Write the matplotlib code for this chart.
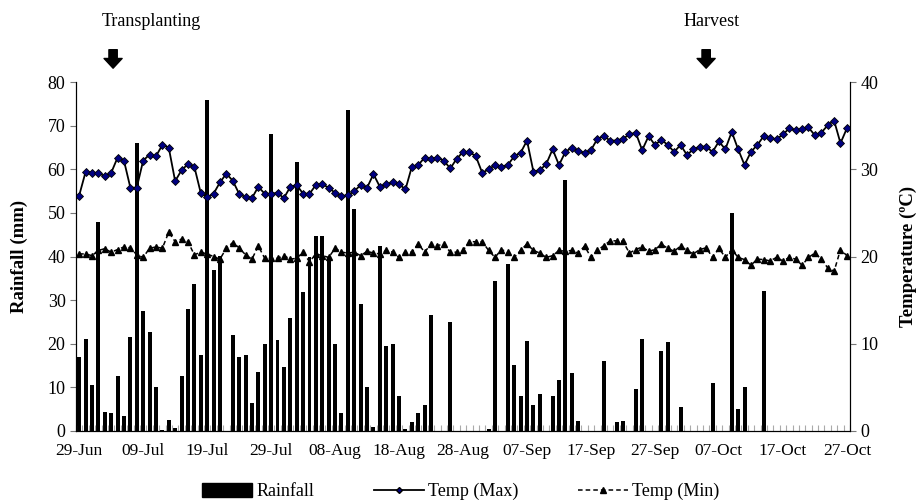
import numpy as np
import matplotlib.pyplot as plt
from matplotlib.patches import Patch
from matplotlib.lines import Line2D

plt.rcParams['font.family'] = ['Liberation Serif', 'DejaVu Serif']

# daily data, 29-Jun to 27-Oct
rainfall = [17.0, 21.0, 10.5, 48.0, 4.4, 4.0, 12.6, 3.5, 21.6, 66.0,
            27.6, 22.6, 10.0, 0.2, 2.5, 0.6, 12.6, 28.0, 33.6, 17.5,
            76.0, 37.0, 40.1, 0, 22.1, 17.0, 17.5, 6.5, 13.6, 20.0,
            68.0, 20.8, 14.6, 26.0, 61.6, 31.8, 40.0, 44.8, 44.6, 39.8,
            20.0, 4.0, 73.5, 51.0, 29.0, 10.0, 1.0, 42.5, 19.5, 20.0,
            8.0, 0.5, 2.0, 4.0, 6.0, 26.5, 0, 0, 25.0, 0,
            0, 0, 0, 0, 0.5, 34.5, 0, 38.2, 15.2, 8.0,
            20.6, 6.0, 8.5, 0, 8.0, 11.7, 57.5, 13.2, 2.3, 0,
            0, 0, 16.0, 0, 2.0, 2.3, 0, 9.6, 21.0, 0,
            0, 18.3, 20.3, 0, 5.6, 0, 0, 0, 0, 11.0,
            0, 0, 50.1, 5.0, 10.1, 0, 0, 32.0, 0, 0,
            0, 0, 0, 0, 0, 0, 0, 0, 0, 0, 0]

temp_max = [27.0, 29.7, 29.6, 29.6, 29.2, 29.6, 31.35, 31.0, 27.9, 27.9,
            31.0, 31.7, 31.5, 32.8, 32.5, 28.65, 29.9, 30.6, 30.3, 27.3,
            26.8, 27.2, 28.5, 29.5, 28.7, 27.2, 26.8, 26.7, 28.0, 27.2,
            27.2, 27.3, 26.7, 28.0, 28.2, 27.2, 27.2, 28.2, 28.3, 27.9,
            27.3, 26.9, 27.05, 27.5, 28.2, 27.9, 29.45, 28.0, 28.3, 28.5,
            28.3, 27.7, 30.3, 30.5, 31.35, 31.2, 31.35, 31.0, 30.1, 31.2,
            32.0, 32.0, 31.5, 29.6, 30.0, 30.5, 30.3, 30.5, 31.5, 31.9,
            33.3, 29.75, 29.9, 30.6, 32.3, 30.5, 32.0, 32.5, 32.1, 31.9,
            32.2, 33.5, 33.8, 33.3, 33.3, 33.5, 34.0, 34.2, 32.2, 33.8,
            32.8, 33.4, 32.8, 32.0, 32.8, 31.65, 32.3, 32.6, 32.6, 32.0,
            33.2, 32.3, 34.3, 32.3, 30.5, 32.0, 32.8, 33.8, 33.6, 33.45,
            34.0, 34.7, 34.5, 34.6, 34.8, 33.9, 34.2, 35.05, 35.6, 33.0, 34.7]

temp_min = [20.3, 20.3, 20.1, 20.7, 20.9, 20.5, 20.8, 21.1, 21.0, 20.2,
            19.9, 20.95, 21.1, 20.95, 22.8, 21.7, 22.0, 21.7, 20.2, 20.5,
            20.3, 20.0, 19.7, 20.95, 21.6, 21.0, 20.2, 19.7, 21.2, 19.8,
            19.8, 19.8, 20.1, 19.7, 19.8, 20.5, 19.4, 20.3, 20.1, 19.9,
            20.95, 20.5, 20.4, 20.5, 20.1, 20.6, 20.4, 20.3, 20.7, 20.5,
            19.9, 20.5, 20.5, 21.45, 20.5, 21.45, 21.25, 21.45, 20.5, 20.5,
            20.7, 21.7, 21.7, 21.7, 20.7, 19.9, 20.8, 20.5, 19.9, 20.7,
            21.45, 20.7, 20.4, 19.9, 20.1, 20.7, 20.6, 20.7, 20.4, 21.2,
            19.9, 20.7, 21.25, 21.8, 21.8, 21.75, 20.4, 20.8, 21.1, 20.6,
            20.8, 21.4, 20.95, 20.6, 21.2, 20.7, 20.3, 20.8, 21.0, 19.9,
            20.95, 19.9, 20.8, 19.9, 19.65, 19.0, 19.7, 19.65, 19.5, 19.9,
            19.5, 19.9, 19.7, 19.0, 19.9, 20.4, 19.7, 18.7, 18.3, 20.8, 20.1]

date_labels = ['29-Jun', '09-Jul', '19-Jul', '29-Jul', '08-Aug', '18-Aug', '28-Aug',
               '07-Sep', '17-Sep', '27-Sep', '07-Oct', '17-Oct', '27-Oct']

days = np.arange(len(rainfall))

fig = plt.figure(figsize=(9.21, 5.04), dpi=100)
ax = fig.add_axes([0.0825, 0.145, 0.8405, 0.692])
ax2 = ax.twinx()

ax.bar(days, rainfall, width=0.62, color='black', zorder=1)
ax2.plot(days, temp_max, color='black', lw=1.3, marker='D', ms=4,
         mfc='#000080', mec='black', mew=0.6)
ax2.plot(days, temp_min, color='black', lw=1.1, ls=(0, (3, 2)), marker='^', ms=5,
         mfc='black', mec='black')

ax.set_xlim(-0.5, len(days) - 0.5)
ax.set_ylim(0, 80)
ax2.set_ylim(0, 40)
ax.set_yticks(range(0, 81, 10))
ax2.set_yticks(range(0, 41, 10))
ax.set_xticks(days[::10])
ax.set_xticklabels(date_labels, fontsize=12.5)
ax.set_xticks(np.arange(-0.5, len(days)), minor=True)
ax.tick_params(axis='x', which='major', length=0, pad=9)
ax.tick_params(axis='x', which='minor', direction='in', length=4, color='#aaaaaa', width=0.8)
ax.tick_params(axis='y', labelsize=13, length=4, color='#777777')
ax2.tick_params(axis='y', labelsize=13, length=4, color='#777777')

for a in (ax, ax2):
    a.spines['top'].set_visible(False)
ax.set_ylabel('Rainfall (mm)', fontsize=13.5, fontweight='bold', labelpad=14)
ax2.set_ylabel('Temperature (ºC)', fontsize=13.5, fontweight='bold', labelpad=15)

# event markers above the plot
events = [('Transplanting', 5.3, 11.3), ('Harvest', 98, 98.8)]
for label, arrow_x, text_x in events:
    ax.annotate('', xy=(arrow_x, 1.04), xytext=(arrow_x, 1.093),
                xycoords=('data', 'axes fraction'),
                arrowprops=dict(width=6, headwidth=13, headlength=7, shrink=0,
                                color='black'))
    ax.text(text_x, 1.175, label, transform=ax.get_xaxis_transform(),
            ha='center', va='center', fontsize=13)

handles = [Patch(facecolor='black', edgecolor='black', label='Rainfall'),
           Line2D([], [], color='black', lw=1.3, marker='D', ms=3, mfc='#000080',
                  mec='black', label='Temp (Max)'),
           Line2D([], [], color='black', lw=1.1, ls=(0, (3, 2)), marker='^', ms=4,
                  label='Temp (Min)')]
fig.legend(handles=handles, loc='lower center', bbox_to_anchor=(0.5, -0.025), ncol=3,
           frameon=False, fontsize=13, handlelength=2.8, handleheight=0.8,
           columnspacing=3.3, handletextpad=0.2)

fig.savefig('out.png', dpi=100)
